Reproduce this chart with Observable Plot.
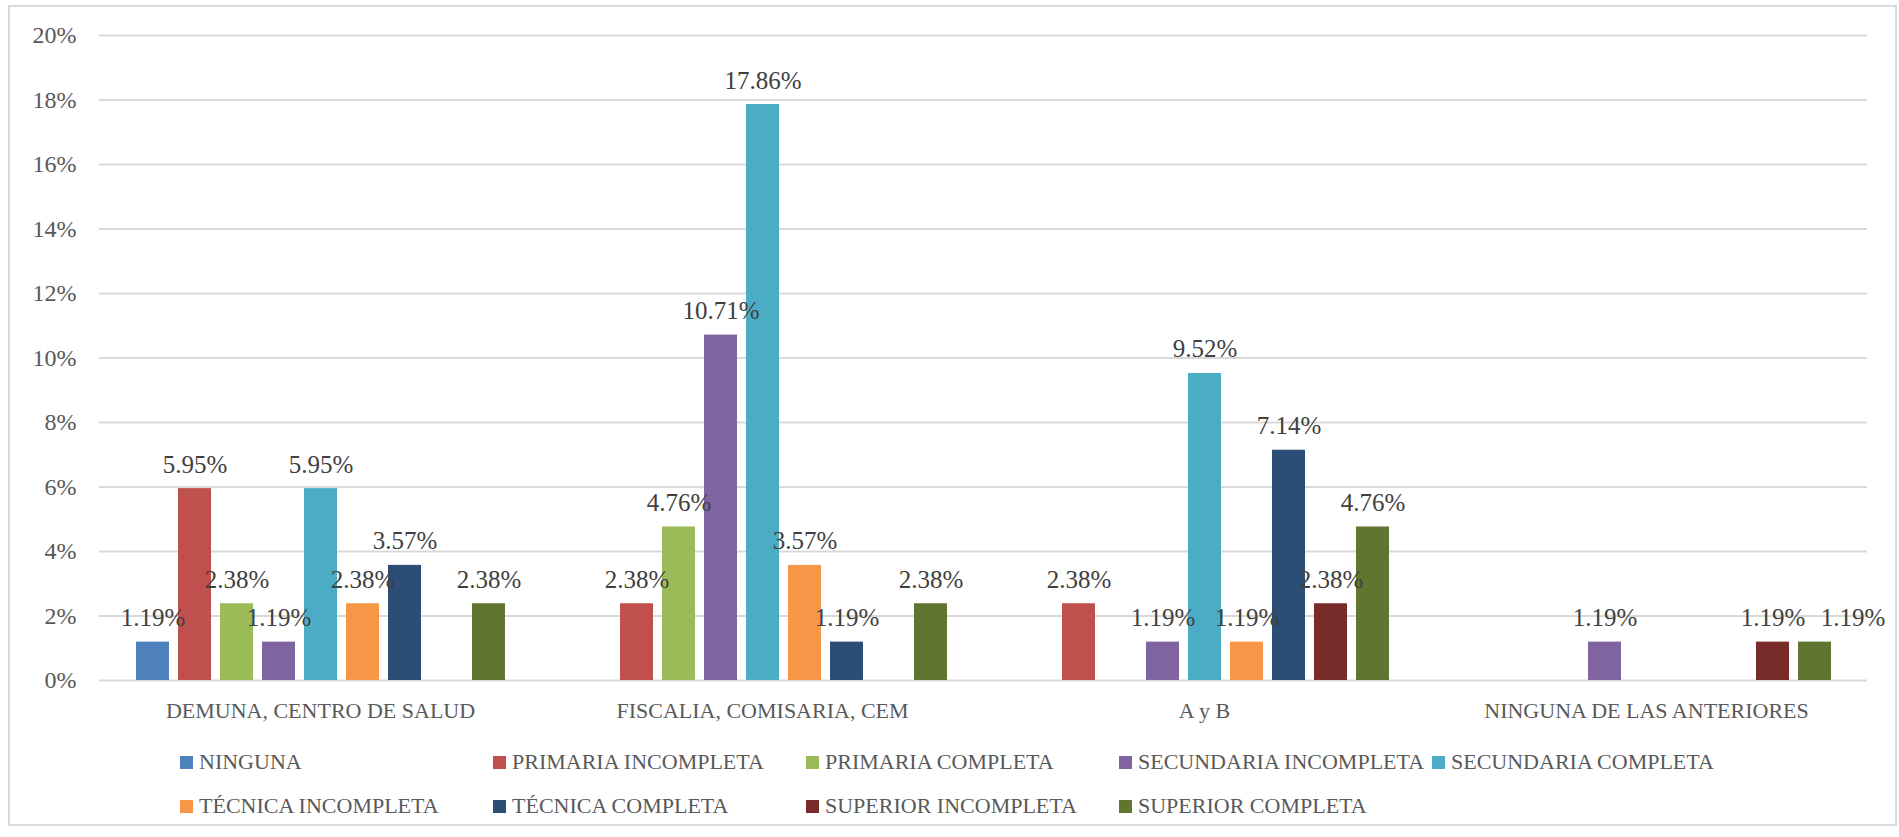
<!DOCTYPE html>
<html>
<head>
<meta charset="utf-8">
<script src="https://cdn.jsdelivr.net/npm/d3@7"></script>
<script src="https://cdn.jsdelivr.net/npm/@observablehq/plot@0.6"></script>
<style>
  html, body { margin: 0; padding: 0; background: #fff; }
  #wrap { position: relative; width: 1899px; height: 837px; overflow: hidden; font-family: "Liberation Serif", serif; }
  #frame { position: absolute; left: 8px; top: 5px; width: 1889px; height: 821px; border: 2px solid #d9d9d9; box-sizing: border-box; }
  #chart { position: absolute; left: 0; top: 0; }
  #legend { position: absolute; left: 180px; top: 740px; display: grid; grid-template-columns: repeat(5, 313px); grid-auto-rows: 44px; }
  .item { display: flex; align-items: center; font-size: 22px; color: #595959; white-space: nowrap; }
  .sw { width: 13px; height: 13px; margin-right: 6px; flex: none; }
</style>
</head>
<body>
<div id="wrap">
  <div id="frame"></div>
  <div id="chart"></div>
  <div id="legend"></div>
</div>
<script>
const categories = ["DEMUNA, CENTRO DE SALUD", "FISCALIA, COMISARIA, CEM", "A y B", "NINGUNA DE LAS ANTERIORES"];
const levels = ["NINGUNA", "PRIMARIA INCOMPLETA", "PRIMARIA COMPLETA", "SECUNDARIA INCOMPLETA", "SECUNDARIA COMPLETA", "TÉCNICA INCOMPLETA", "TÉCNICA COMPLETA", "SUPERIOR INCOMPLETA", "SUPERIOR COMPLETA"];
const colors = ["#4F81BD", "#C0504D", "#9BBB59", "#8064A2", "#4BACC6", "#F79646", "#2C4D75", "#772C2A", "#5F7530"];
const demuna   = [1.19, 5.95, 2.38, 1.19, 5.95, 2.38, 3.57, null, 2.38];
const fiscalia = [null, 2.38, 4.76, 10.71, 17.86, 3.57, 1.19, null, 2.38];
const ayb      = [null, 2.38, null, 1.19, 9.52, 1.19, 7.14, 2.38, 4.76];
const ninguna  = [null, null, null, 1.19, null, null, null, 1.19, 1.19];
const yTicks = [0, 2, 4, 6, 8, 10, 12, 14, 16, 18, 20];

const series = [demuna, fiscalia, ayb, ninguna];
const data = [];
categories.forEach((c, i) => {
  series[i].forEach((v, j) => {
    if (v != null) data.push({category: c, level: levels[j], value: v});
  });
});

// The last label of the chart is nudged right (as in the original) to avoid overlapping its neighbour.
const isLast = d => d.category === categories[categories.length - 1] && d.level === levels[levels.length - 1];
const fmt = d => d.value.toFixed(2) + "%";

const plot = Plot.plot({
  width: 1899,
  height: 735,
  marginLeft: 97,
  marginRight: 31,
  marginTop: 35,
  marginBottom: 55,
  style: {fontFamily: "'Liberation Serif', serif", background: "transparent"},
  fx: {domain: categories, padding: 0, label: null},
  x: {domain: levels, paddingInner: 0.224, paddingOuter: 0.861, axis: null},
  y: {domain: [0, 20], label: null},
  color: {domain: levels, range: colors},
  marks: [
    Plot.gridY(yTicks, {stroke: "#d9d9d9", strokeOpacity: 1, strokeWidth: 2}),
    Plot.axisY(yTicks, {tickSize: 0, tickPadding: 23, fontSize: 24, fill: "#595959", tickFormat: d => d + "%", label: null}),
    Plot.axisFx({anchor: "bottom", tickSize: 0, tickPadding: 22, fontSize: 22, fill: "#595959", label: null}),
    Plot.barY(data, {fx: "category", x: "level", y: "value", fill: "level"}),
    Plot.text(data, {filter: d => !isLast(d), fx: "category", x: "level", y: "value", text: fmt, lineAnchor: "bottom", dy: -16, fontSize: 25, fill: "#404040"}),
    Plot.text(data, {filter: isLast, fx: "category", x: "level", y: "value", text: fmt, lineAnchor: "bottom", dy: -16, dx: 38, fontSize: 25, fill: "#404040"})
  ]
});
document.getElementById("chart").appendChild(plot);

const legend = document.getElementById("legend");
levels.forEach((l, i) => {
  const item = document.createElement("div");
  item.className = "item";
  const sw = document.createElement("span");
  sw.className = "sw";
  sw.style.background = colors[i];
  item.appendChild(sw);
  item.appendChild(document.createTextNode(l));
  legend.appendChild(item);
});
</script>
</body>
</html>
